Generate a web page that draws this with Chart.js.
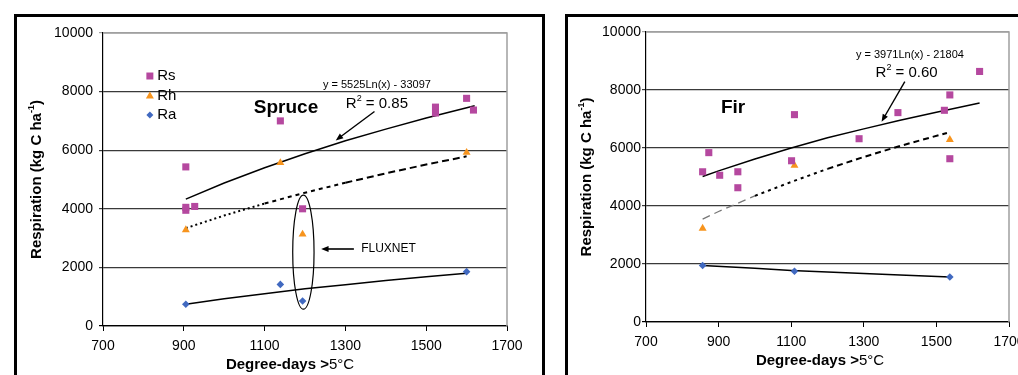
<!DOCTYPE html>
<html>
<head>
<meta charset="utf-8">
<script src="https://cdn.jsdelivr.net/npm/chart.js@4.4.1/dist/chart.umd.min.js"></script>
<style>
html, body { margin: 0; padding: 0; background: #fff; width: 1018px; height: 375px; overflow: hidden; }
.box { position: absolute; top: 0; height: 375px; }
.frame { position: absolute; border: 3px solid #000; pointer-events: none; }
</style>
</head>
<body>
<div class="box" style="left:0;width:540px"><canvas id="spruce"></canvas></div>
<div class="box" style="left:560px;width:480px"><canvas id="fir"></canvas></div>
<div class="frame" style="left:14px;top:14px;width:525px;height:400px"></div>
<div class="frame" style="left:565px;top:14px;width:500px;height:400px"></div>
<script>
// Spruce
const spruceRsX = [905, 905, 905, 927, 1139, 1194, 1523, 1523, 1600, 1617];
const spruceRsY = [5430, 3950, 4050, 4080, 7000, 4000, 7470, 7270, 7770, 7370];
const spruceRhX = [905, 1139, 1194, 1600];
const spruceRhY = [3280, 5570, 3130, 5920];
const spruceRaX = [905, 1139, 1194, 1600];
const spruceRaY = [740, 1420, 855, 1855];
// trend lines
const spruceRsFitX = [905, 1000, 1100, 1200, 1300, 1400, 1500, 1620];
const spruceRsFit = [4330, 4880, 5400, 5880, 6320, 6720, 7100, 7520];
const spruceFitX = [905, 1000, 1100, 1200, 1300, 1400, 1500, 1600];
const spruceRhFit = [3340, 3770, 4180, 4550, 4890, 5210, 5510, 5790];
const spruceRaFit = [740, 930, 1100, 1270, 1410, 1550, 1680, 1800];

// Fir
const firRsX = [856, 873, 903, 953, 953, 1101, 1109, 1287, 1394, 1522, 1537, 1537, 1619];
const firRsY = [5180, 5840, 5060, 5180, 4630, 5560, 7150, 6320, 7220, 7300, 7830, 5630, 8640];
const firRhX = [856, 1109, 1537];
const firRhY = [3230, 5400, 6290];
const firRaX = [856, 1109, 1537];
const firRaY = [1950, 1750, 1550];
const firRsFitX = [856, 900, 1000, 1100, 1200, 1300, 1400, 1500, 1619];
const firRsFit = [5020, 5210, 5620, 6000, 6350, 6660, 6960, 7230, 7550];
const firRhFitX = [856, 900, 1000, 1100, 1200, 1300, 1400, 1529];
const firRhFit = [3550, 3810, 4350, 4830, 5280, 5690, 6070, 6520];
const firRaFitX = [856, 1000, 1100, 1200, 1300, 1400, 1537];
const firRaFit = [1950, 1850, 1780, 1720, 1670, 1620, 1550];

const seriesNames = ['Rs', 'Rh', 'Ra'];
const xTicks = [700, 900, 1100, 1300, 1500, 1700];
const yTicks = [0, 2000, 4000, 6000, 8000, 10000];

const RS = '#b5489f', RH = '#f7941d', RA = '#4169c0';
const FONT = '"Liberation Sans", Arial, sans-serif';

const pts = (xs, ys) => xs.map((v, i) => ({x: v, y: ys[i]}));

function arrow(ctx, x1, y1, x2, y2) {
  const a = Math.atan2(y2 - y1, x2 - x1), h = 8;
  ctx.beginPath(); ctx.moveTo(x1, y1); ctx.lineTo(x2 - Math.cos(a) * 4, y2 - Math.sin(a) * 4); ctx.stroke();
  ctx.beginPath();
  ctx.moveTo(x2, y2);
  ctx.lineTo(x2 - h * Math.cos(a - 0.38), y2 - h * Math.sin(a - 0.38));
  ctx.lineTo(x2 - h * Math.cos(a + 0.38), y2 - h * Math.sin(a + 0.38));
  ctx.closePath(); ctx.fill();
}

function runs(ctx, parts, cx, cy) {
  let w = 0;
  parts.forEach(p => { ctx.font = p[1]; w += ctx.measureText(p[0]).width; });
  let x = cx - w / 2;
  ctx.textAlign = 'left'; ctx.textBaseline = 'middle';
  parts.forEach(p => { ctx.font = p[1]; ctx.fillText(p[0], x, cy - (p[2] || 0)); x += ctx.measureText(p[0]).width; });
}

function marker(ctx, style, x, y) {
  ctx.beginPath();
  if (style === 'rect') { ctx.fillStyle = RS; ctx.rect(x - 3.5, y - 3.5, 7, 7); }
  else if (style === 'triangle') { ctx.fillStyle = RH; ctx.moveTo(x, y - 4.5); ctx.lineTo(x + 4, y + 2.5); ctx.lineTo(x - 4, y + 2.5); }
  else { ctx.fillStyle = RA; ctx.moveTo(x, y - 3.5); ctx.lineTo(x + 3.5, y); ctx.lineTo(x, y + 3.5); ctx.lineTo(x - 3.5, y); }
  ctx.closePath(); ctx.fill();
}

const notesPlugin = {
  id: 'notes',
  afterDatasetsDraw(chart) {
    const n = chart.options.plugins.notes;
    const {ctx, chartArea: a, scales: {x, y}} = chart;
    const px = v => x.getPixelForValue(v), py = v => y.getPixelForValue(v);
    ctx.save();
    // grey top / right plot border
    ctx.strokeStyle = '#a0a0a0'; ctx.lineWidth = 1.5;
    ctx.beginPath(); ctx.moveTo(a.left, a.top); ctx.lineTo(a.right, a.top); ctx.lineTo(a.right, a.bottom); ctx.stroke();
    ctx.fillStyle = '#000'; ctx.strokeStyle = '#000';
    runs(ctx, [[n.eq.text, '11px ' + FONT]], px(n.eq.x), py(n.eq.y));
    runs(ctx, [['R', '15px ' + FONT], ['2', '9px ' + FONT, 5], [' = ' + n.r2.text, '15px ' + FONT]], px(n.r2.x), py(n.r2.y));
    runs(ctx, [[n.name.text, 'bold 19px ' + FONT]], px(n.name.x), py(n.name.y));
    ctx.lineWidth = 1.4;
    arrow(ctx, px(n.arrow[0]), py(n.arrow[1]), px(n.arrow[2]), py(n.arrow[3]));
    if (n.ellipse) {
      const e = n.ellipse;
      ctx.lineWidth = 1.2;
      ctx.beginPath();
      ctx.ellipse(px(e.x), py(e.y), Math.abs(px(e.x + e.rx) - px(e.x)), Math.abs(py(e.y + e.ry) - py(e.y)), 0, 0, Math.PI * 2);
      ctx.stroke();
      ctx.lineWidth = 1.6;
      arrow(ctx, px(e.flux[0]), py(e.flux[1]), px(e.flux[2]), py(e.flux[1]));
      ctx.textAlign = 'left'; ctx.textBaseline = 'middle'; ctx.font = '12px ' + FONT;
      ctx.fillText('FLUXNET', px(e.flux[3]), py(e.flux[1]));
    }
    if (n.legend) {
      const L = n.legend;
      ['rect', 'triangle', 'rectRot'].forEach((s, i) => {
        marker(ctx, s, px(L.mx), py(L.ys[i]));
        ctx.fillStyle = '#000'; ctx.font = '15px ' + FONT; ctx.textAlign = 'left'; ctx.textBaseline = 'middle';
        ctx.fillText(seriesNames[i], px(L.tx), py(L.ys[i]));
      });
    }
    ctx.restore();
  },
  afterDraw(chart) {
    const n = chart.options.plugins.notes;
    const {ctx, chartArea: a} = chart;
    ctx.save();
    ctx.fillStyle = '#000';
    runs(ctx, [['Degree-days >', 'bold 15px ' + FONT], ['5°C', '15px ' + FONT]], (a.left + a.right) / 2 + n.xTitle[0], n.xTitle[1]);
    ctx.translate(a.left + n.yTitle, (a.top + a.bottom) / 2);
    ctx.rotate(-Math.PI / 2);
    runs(ctx, [['Respiration (kg C ha', 'bold 15px ' + FONT], ['-1', 'bold 9px ' + FONT, 5], [')', 'bold 15px ' + FONT]], 0, 0);
    ctx.restore();
  }
};

function makeChart(id, d, lay, notes) {
  new Chart(document.getElementById(id), {
    type: 'scatter',
    data: {
      datasets: [
        {label: 'Rs', data: pts(d.rsX, d.rsY), pointStyle: 'rect', pointRadius: 5, pointBorderWidth: 0, backgroundColor: RS, borderColor: RS},
        {label: 'Rh', data: pts(d.rhX, d.rhY), pointStyle: 'triangle', pointRadius: 4.6, pointBorderWidth: 0, backgroundColor: RH, borderColor: RH},
        {label: 'Ra', data: pts(d.raX, d.raY), pointStyle: 'rectRot', pointRadius: 3.8, pointBorderWidth: 0, backgroundColor: RA, borderColor: RA},
        {label: 'Rs fit', data: pts(d.rsFitX, d.rsFit), showLine: true, pointRadius: 0, borderColor: '#000', borderWidth: 1.5},
        {label: 'Rh fit', data: pts(d.rhFitX, d.rhFit), showLine: true, pointRadius: 0, borderColor: '#000', borderWidth: 2,
          segment: d.rhSegment},
        {label: 'Ra fit', data: pts(d.raFitX, d.raFit), showLine: true, pointRadius: 0, borderColor: '#000', borderWidth: 1.5}
      ]
    },
    options: {
      responsive: true,
      maintainAspectRatio: false,
      animation: false,
      layout: {padding: {left: 0, right: lay.right, top: lay.top, bottom: 0}},
      plugins: {legend: {display: false}, tooltip: {enabled: false}, notes: notes},
      scales: {
        x: {
          type: 'linear', min: 700, max: 1700,
          afterBuildTicks: s => { s.ticks = xTicks.map(v => ({value: v})); },
          afterFit: s => { s.height = lay.xh; },
          grid: {drawOnChartArea: false, drawTicks: true, tickLength: 5, color: '#000'},
          border: {color: '#000', width: 1.2},
          ticks: {color: '#000', font: {family: FONT, size: 14}, padding: 7, maxRotation: 0, callback: v => String(v)}
        },
        y: {
          type: 'linear', min: 0, max: 10000,
          afterBuildTicks: s => { s.ticks = yTicks.map(v => ({value: v})); },
          afterFit: s => { s.width = lay.yw; },
          grid: {tickLength: 4, lineWidth: 1.2,
            color: c => c.tick && c.tick.value === 10000 ? '#a0a0a0' : (c.tick && c.tick.value === 0 ? '#000' : '#3a3a3a')},
          border: {color: '#000', width: 1.2},
          ticks: {color: '#000', font: {family: FONT, size: 14}, padding: lay.yPad, callback: v => String(v)}
        }
      }
    },
    plugins: [notesPlugin]
  });
}

makeChart('spruce', {
  rsX: spruceRsX, rsY: spruceRsY, rhX: spruceRhX, rhY: spruceRhY, raX: spruceRaX, raY: spruceRaY,
  rsFitX: spruceRsFitX, rsFit: spruceRsFit, rhFitX: spruceFitX, rhFit: spruceRhFit, raFitX: spruceFitX, raFit: spruceRaFit,
  rhSegment: {borderDash: c => c.p0DataIndex < 2 ? [2, 3] : (c.p0DataIndex < 4 ? [4, 4] : [7, 4])}
}, {right: 33, top: 33, xh: 49, yw: 103, yPad: 6}, {
  eq: {x: 1378, y: 8225, text: 'y = 5525Ln(x) - 33097'},
  r2: {x: 1378, y: 7577, text: '0.85'},
  name: {x: 1153, y: 7440, text: 'Spruce'},
  arrow: [1372, 7323, 1276, 6333],
  ellipse: {x: 1196, y: 2519, rx: 26.4, ry: 1945, flux: [1321, 2628, 1240, 1339]},
  legend: {mx: 816, tx: 834, ys: [8532, 7850, 7201]},
  xTitle: [-15, 365], yTitle: -66
});

makeChart('fir', {
  rsX: firRsX, rsY: firRsY, rhX: firRhX, rhY: firRhY, raX: firRaX, raY: firRaY,
  rsFitX: firRsFitX, rsFit: firRsFit, rhFitX: firRhFitX, rhFit: firRhFit, raFitX: firRaFitX, raFit: firRaFit,
  rhSegment: {
    borderDash: c => c.p0DataIndex < 2 ? [8, 5] : (c.p0DataIndex < 4 ? [3, 4] : [6, 4]),
    borderColor: c => c.p0DataIndex < 2 ? '#777' : '#000',
    borderWidth: c => c.p0DataIndex < 2 ? 1.3 : 2
  }
}, {right: 31, top: 32, xh: 53, yw: 86, yPad: 1}, {
  eq: {x: 1427, y: 9207, text: 'y = 3971Ln(x) - 21804'},
  r2: {x: 1418, y: 8603, text: '0.60'},
  name: {x: 940, y: 7390, text: 'Fir'},
  arrow: [1413, 8286, 1349, 6907],
  xTitle: [-7.5, 361], yTitle: -59
});
</script>
</body>
</html>
